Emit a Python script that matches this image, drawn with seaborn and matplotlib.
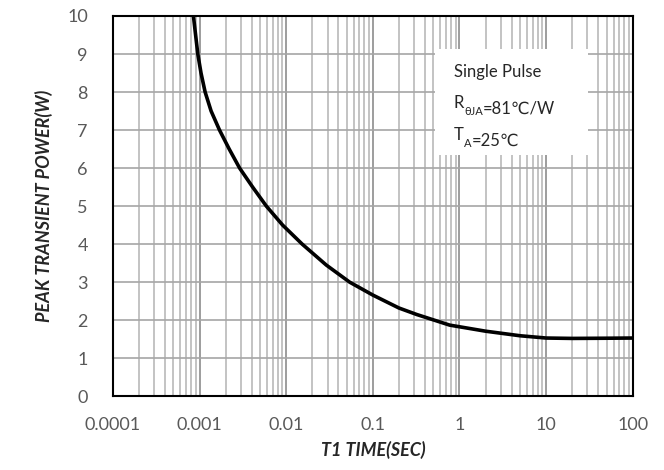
""" Peak transient power vs pulse time (single pulse).
"""
import matplotlib
matplotlib.use('Agg')
import matplotlib.pyplot as plt
from matplotlib.ticker import LogLocator, FixedLocator, NullFormatter
import seaborn as sns

# data
t1_time = [0.00085, 0.000955, 0.00104, 0.00116, 0.00136, 0.0017, 0.0022, 0.0029,
           0.0041, 0.0059, 0.0091, 0.0153, 0.029, 0.054, 0.1, 0.2, 0.32, 0.77,
           2, 5, 10, 20, 50, 100]
peak_power = [10, 9, 8.5, 8, 7.5, 7, 6.5, 6,
              5.5, 5, 4.5, 4, 3.45, 3.0, 2.66, 2.32, 2.15, 1.87,
              1.71, 1.59, 1.53, 1.52, 1.525, 1.53]
x_ticks = [0.0001, 0.001, 0.01, 0.1, 1, 10, 100]
x_tick_labels = ['0.0001', '0.001', '0.01', '0.1', '1', '10', '100']
y_ticks = list(range(0, 11))

sns.set_style('white')
plt.rcParams['font.family'] = ['Lato', 'DejaVu Sans']

fig = plt.figure(figsize=(6.64, 4.70), dpi=100)
ax = fig.add_axes([0.170, 0.157, 0.783, 0.809])

sns.lineplot(x=t1_time, y=peak_power, color='black', linewidth=2.6, ax=ax, zorder=5)

ax.set_xscale('log')
ax.set_xlim(0.0001, 100)
ax.set_ylim(0, 10)

# grid
ax.xaxis.set_major_locator(FixedLocator(x_ticks))
ax.set_xticklabels(x_tick_labels)
ax.xaxis.set_minor_locator(LogLocator(base=10, subs=range(2, 10)))
ax.xaxis.set_minor_formatter(NullFormatter())
ax.set_yticks(y_ticks)
ax.grid(which='major', axis='x', color='#8c8c8c', linewidth=1.2)
ax.grid(which='minor', axis='x', color='#b3b3b3', linewidth=1.1)
ax.grid(which='major', axis='y', color='#a6a6a6', linewidth=1.2)
ax.set_axisbelow(True)

ax.tick_params(axis='both', which='both', length=0, labelsize=13, labelcolor='#595959')
ax.tick_params(axis='x', pad=15)
ax.tick_params(axis='y', pad=18)

for s in ax.spines.values():
    s.set_color('black')
    s.set_linewidth(1.5)
    s.set_zorder(6)

ax.set_xlabel('T1 TIME(SEC)', fontsize=13, fontweight='bold', fontstyle='italic', labelpad=6)
ax.set_ylabel('PEAK TRANSIENT POWER(W)', fontsize=13, fontweight='bold', fontstyle='italic', labelpad=10)

# note box
ax.add_patch(plt.Rectangle((0.619, 0.634), 0.294, 0.279, transform=ax.transAxes,
                           facecolor='white', edgecolor='none', zorder=4))
ax.text(0.656, 0.853, 'Single Pulse', transform=ax.transAxes, fontsize=12,
        va='center', ha='left', zorder=7)


def sub_line(y, main, sub, rest):
    t0 = ax.text(0.656, y, main, transform=ax.transAxes, fontsize=12,
                 va='baseline', ha='left', zorder=7)
    t1 = ax.annotate(sub, xy=(1, 0), xycoords=t0, xytext=(0, -2.5),
                     textcoords='offset points', fontsize=8,
                     va='baseline', ha='left', zorder=7)
    ax.annotate(rest, xy=(1, 0), xycoords=t1, xytext=(0, 2.5),
                textcoords='offset points', fontsize=12,
                va='baseline', ha='left', zorder=7)


sub_line(0.757, 'R', 'θJA', '=81℃/W')
sub_line(0.673, 'T', 'A', '=25℃')

fig.savefig('out.png', dpi=100)
